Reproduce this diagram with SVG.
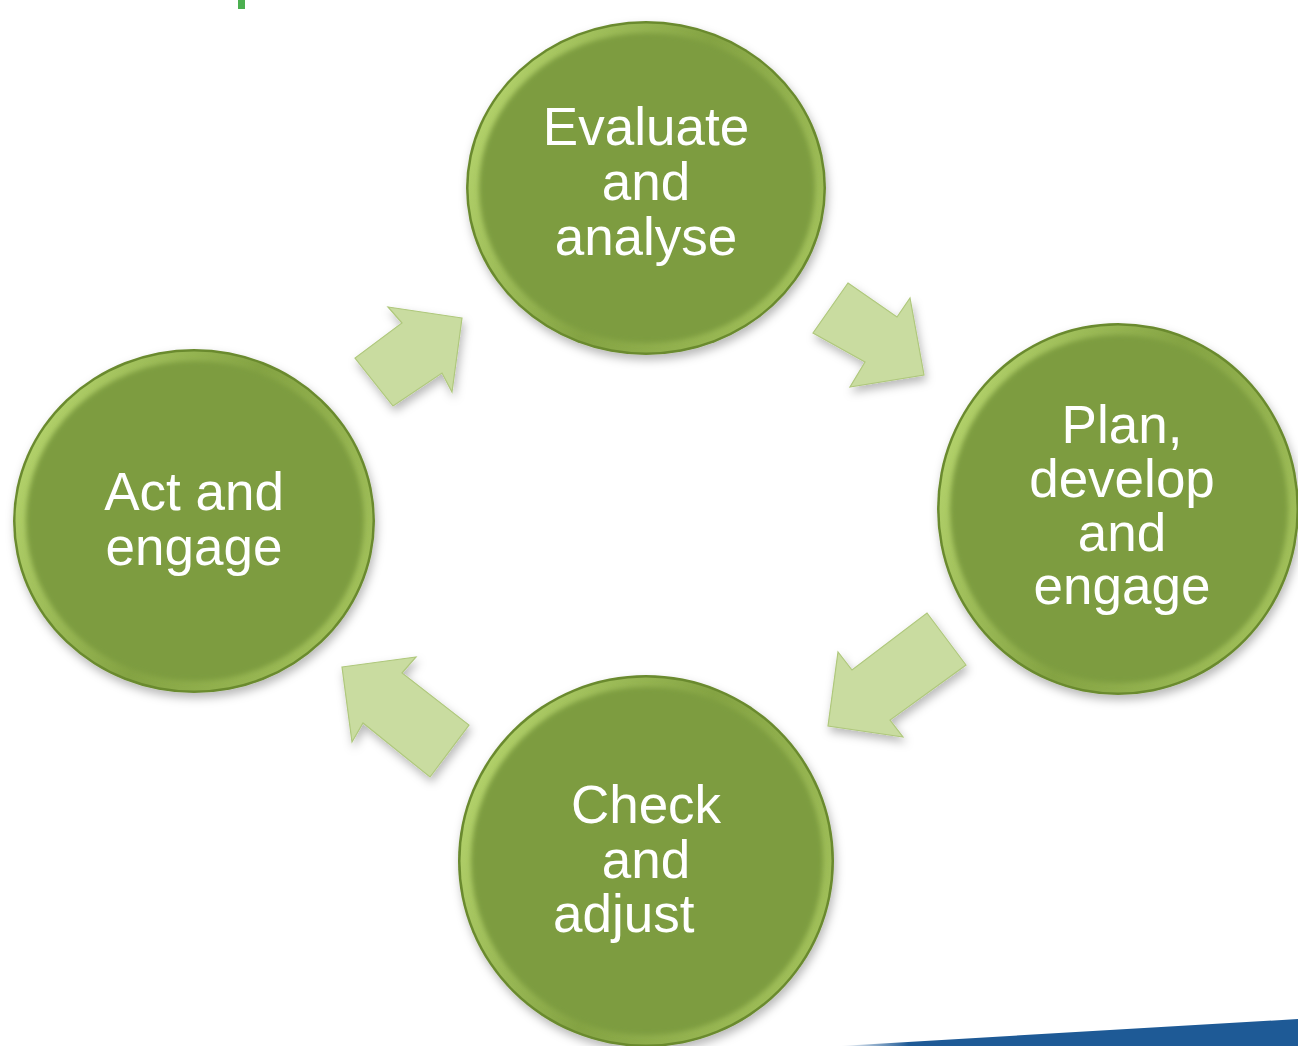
<svg xmlns="http://www.w3.org/2000/svg" width="1298" height="1046" viewBox="0 0 1298 1046">
  <defs>
    <style>
      .rim { fill: #6A8A2F; }
      .bevel { fill: url(#bevelGrad); }
      .face { fill: #7D9C3F; }
      .label { font-family: "Liberation Sans", Arial, sans-serif; font-size: 53px; fill: #FFFFFF; text-anchor: middle; }
      .arrow { fill: #C9DCA0; stroke: #AFC87C; stroke-width: 1.2; stroke-linejoin: miter; }
    </style>
    <linearGradient id="bevelGrad" x1="0" y1="0.3" x2="1" y2="0.7">
      <stop offset="0" stop-color="#B4D36C"/>
      <stop offset="0.5" stop-color="#84A343"/>
      <stop offset="1" stop-color="#A2C15B"/>
    </linearGradient>
    <linearGradient id="barGrad" x1="0" y1="0" x2="1" y2="0">
      <stop offset="0" stop-color="#1E5A96" stop-opacity="0"/>
      <stop offset="0.15" stop-color="#1E5A96"/>
      <stop offset="1" stop-color="#1E5A96"/>
    </linearGradient>
    <filter id="shadow" x="-20%" y="-20%" width="140%" height="140%">
      <feDropShadow dx="2" dy="5" stdDeviation="5" flood-color="#000000" flood-opacity="0.28"/>
    </filter>
    <filter id="soft" x="-10%" y="-10%" width="120%" height="120%">
      <feGaussianBlur stdDeviation="2.5"/>
    </filter>
  </defs>

  <rect x="0" y="0" width="1298" height="1046" fill="#FFFFFF"/>

  <!-- decorative fragments at page edges -->
  <rect x="238" y="0" width="7" height="9" fill="#4CAF50"/>
  <polygon points="840,1046 1298,1019 1298,1046" fill="url(#barGrad)"/>

  <g id="connectors">
    <polygon id="arrow-evaluate-plan" class="arrow" filter="url(#shadow)" points="848,283 897,317 910,298 924,375 850,387 865,362 813,333"/>
    <polygon id="arrow-plan-check" class="arrow" filter="url(#shadow)" points="927,613 966,665 890,720 903,737 828,726 838,652 852,670"/>
    <polygon id="arrow-check-act" class="arrow" filter="url(#shadow)" points="342,667 416,657 402,673 469,725 430,777 363,723 352,742"/>
    <polygon id="arrow-act-evaluate" class="arrow" filter="url(#shadow)" points="462,318 388,307 402,323 355,358 393,406 442,373 452,392"/>
  </g>

  <g id="node-evaluate">
    <ellipse class="rim" filter="url(#shadow)" cx="646" cy="188" rx="180" ry="167"/>
    <ellipse class="bevel" cx="646" cy="188" rx="177.5" ry="164.5"/>
    <ellipse class="face" filter="url(#soft)" cx="647" cy="188" rx="168" ry="155"/>
    <text class="label" x="646" y="145">Evaluate</text>
    <text class="label" x="646" y="200">and</text>
    <text class="label" x="646" y="255">analyse</text>
  </g>

  <g id="node-plan">
    <ellipse class="rim" filter="url(#shadow)" cx="1118" cy="509" rx="181" ry="186"/>
    <ellipse class="bevel" cx="1118" cy="509" rx="178.5" ry="183.5"/>
    <ellipse class="face" filter="url(#soft)" cx="1119" cy="509" rx="169" ry="174"/>
    <text class="label" x="1122" y="443">Plan,</text>
    <text class="label" x="1122" y="497">develop</text>
    <text class="label" x="1122" y="551">and</text>
    <text class="label" x="1122" y="604">engage</text>
  </g>

  <g id="node-check">
    <ellipse class="rim" filter="url(#shadow)" cx="646" cy="861" rx="188" ry="186"/>
    <ellipse class="bevel" cx="646" cy="861" rx="185.5" ry="183.5"/>
    <ellipse class="face" filter="url(#soft)" cx="647" cy="861" rx="176" ry="174"/>
    <text class="label" x="646" y="823">Check</text>
    <text class="label" x="646" y="878">and</text>
    <text class="label" x="553" y="932" style="text-anchor:start">adjust</text>
  </g>

  <g id="node-act">
    <ellipse class="rim" filter="url(#shadow)" cx="194" cy="521" rx="181" ry="172"/>
    <ellipse class="bevel" cx="194" cy="521" rx="178.5" ry="169.5"/>
    <ellipse class="face" filter="url(#soft)" cx="195" cy="521" rx="169" ry="160"/>
    <text class="label" x="194" y="510">Act and</text>
    <text class="label" x="194" y="565">engage</text>
  </g>
</svg>
